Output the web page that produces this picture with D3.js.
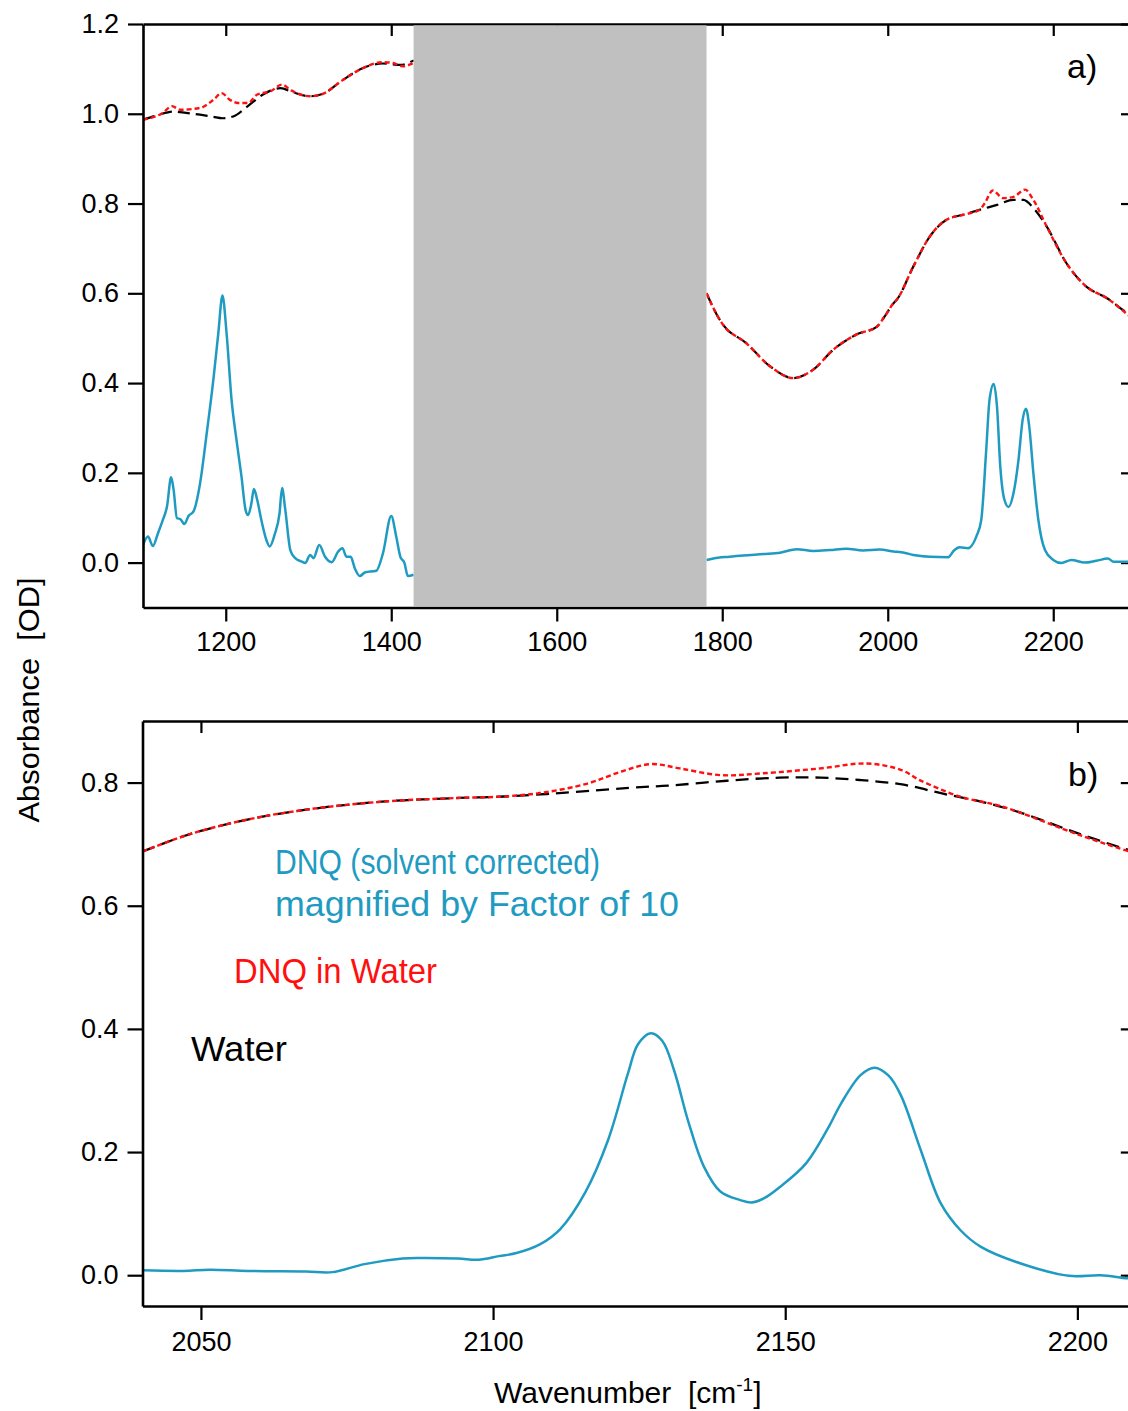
<!DOCTYPE html>
<html>
<head>
<meta charset="utf-8">
<script src="https://cdn.jsdelivr.net/npm/d3@7/dist/d3.min.js"></script>
<style>
  html, body { margin: 0; padding: 0; background: #fff; }
  svg { display: block; }
  text { font-family: "Liberation Sans", Arial, Helvetica, sans-serif; }
</style>
</head>
<body>
<svg id="chart" width="1128" height="1411"></svg>
<script>
// ---------- Panel a) : full spectrum (null = gap hidden under the grey band) ----------
const waterA_wn  = [1100,1118,1136,1152,1169,1185,1196,1209,1226,1245,1266,1281,1302,1318,1342,1366,1390,1411,1427,
                    1600,
                    1781,1797,1801,1829,1858,1886,1910,1934,1962,1987,1995,2007,2011,2031,2051,2071,2091,2111,2132,2152,2164,2176,2192,2216,2240,2265,2289,2300];
const waterA_abs = [0.987,0.997,1.005,1.002,0.998,0.993,0.990,0.994,1.016,1.043,1.057,1.048,1.039,1.045,1.076,1.102,1.112,1.109,1.119,
                    null,
                    0.600,0.541,0.530,0.489,0.437,0.411,0.430,0.474,0.508,0.526,0.545,0.578,0.586,0.660,0.727,0.764,0.775,0.786,0.797,0.808,0.808,0.790,0.749,0.667,0.615,0.589,0.556,0.540];

const dnqWaterA_wn  = [1100,1124,1135,1145,1169,1185,1195,1205,1215,1227,1238,1254,1268,1279,1302,1318,1342,1366,1390,1402,1414,1427,
                       1600,
                       1781,1797,1801,1829,1858,1886,1910,1934,1962,1987,1995,2007,2011,2031,2051,2071,2091,2111,2117,2127,2139,2152,2166,2176,2192,2216,2240,2265,2289,2300];
const dnqWaterA_abs = [0.987,1.002,1.017,1.009,1.013,1.031,1.046,1.031,1.024,1.024,1.043,1.050,1.065,1.052,1.039,1.045,1.076,1.102,1.115,1.113,1.106,1.113,
                       null,
                       0.600,0.541,0.530,0.489,0.437,0.411,0.430,0.474,0.508,0.526,0.545,0.578,0.586,0.660,0.727,0.764,0.775,0.786,0.800,0.829,0.812,0.815,0.831,0.808,0.749,0.667,0.615,0.589,0.554,0.536];

const dnqCorrA_wn  = [1100,1106,1112,1118,1124,1129,1134,1137,1141,1145,1150,1155,1161,1169,1177,1185,1191,1196,1201,1207,1213,1219,1224,1227,1231,1234,1238,1243,1249,1253,1259,1265,1268,1272,1278,1284,1292,1296,1302,1306,1313,1320,1328,1336,1341,1346,1351,1356,1362,1368,1382,1390,1400,1406,1411,1416,1420,1427,
                      1600,
                      1781,1795,1809,1825,1850,1870,1890,1910,1930,1950,1970,1990,2007,2020,2031,2051,2073,2080,2087,2097,2107,2113,2119,2123,2128,2132,2136,2141,2146,2152,2158,2163,2167,2171,2176,2182,2190,2200,2210,2222,2238,2252,2266,2273,2289,2300];
const dnqCorrA_abs = [0.039,0.058,0.037,0.065,0.095,0.125,0.190,0.162,0.099,0.097,0.086,0.104,0.114,0.177,0.288,0.407,0.511,0.595,0.511,0.363,0.273,0.192,0.117,0.106,0.132,0.164,0.140,0.095,0.051,0.036,0.062,0.110,0.166,0.117,0.028,0.010,0.002,-0.001,0.017,0.010,0.039,0.013,0.001,0.025,0.032,0.013,0.013,-0.013,-0.030,-0.022,-0.018,0.021,0.104,0.058,0.013,-0.001,-0.030,-0.027,
                      null,
                      0.006,0.011,0.013,0.016,0.019,0.022,0.030,0.026,0.028,0.031,0.027,0.029,0.025,0.022,0.017,0.013,0.012,0.027,0.034,0.032,0.058,0.095,0.251,0.363,0.398,0.348,0.214,0.140,0.124,0.155,0.229,0.318,0.343,0.303,0.199,0.095,0.028,0.006,-0.001,0.006,0.000,0.004,0.009,0.002,0.002,0.003];

const bandA = [1427, 1781];
const ticksA_x = [1200,1400,1600,1800,2000,2200];
const ticksA_y = [0.0,0.2,0.4,0.6,0.8,1.0,1.2];

// ---------- Panel b) : zoom on the 2040–2210 cm-1 region ----------
const waterB_wn  = [2040,2048,2058,2068,2081,2094,2101,2110,2120,2126,2130,2140,2149,2156,2163,2170,2177,2184,2190,2200,2209,2210];
const waterB_abs = [0.688,0.716,0.740,0.756,0.769,0.775,0.777,0.782,0.789,0.793,0.795,0.803,0.808,0.808,0.804,0.797,0.782,0.768,0.752,0.718,0.690,0.688];

const dnqWaterB_wn  = [2040,2048,2058,2068,2081,2094,2101,2108,2116,2122,2127,2132,2139,2146,2156,2164,2170,2173,2180,2186,2190,2200,2209,2210];
const dnqWaterB_abs = [0.688,0.716,0.740,0.756,0.769,0.775,0.777,0.783,0.798,0.818,0.830,0.823,0.812,0.815,0.823,0.831,0.820,0.804,0.777,0.764,0.752,0.716,0.688,0.686];

const dnqCorrB_wn  = [2040,2047,2051.5,2058,2068,2072.5,2078,2084.5,2087.5,2094,2097.5,2101,2104,2108,2111.5,2115.8,2119.7,2123.1,2124.8,2127,2129,2131,2133.4,2136.1,2138.9,2142.3,2144.2,2146.4,2149.2,2153.6,2157.4,2159.5,2162.9,2165.3,2167.7,2169.8,2173.2,2176.6,2180,2183.5,2190.3,2198.6,2204,2208.5,2210];
const dnqCorrB_abs = [0.008,0.007,0.009,0.007,0.006,0.005,0.018,0.027,0.028,0.027,0.025,0.031,0.036,0.050,0.075,0.135,0.220,0.328,0.375,0.393,0.380,0.332,0.250,0.176,0.136,0.122,0.118,0.125,0.144,0.182,0.240,0.278,0.325,0.337,0.324,0.292,0.203,0.117,0.073,0.046,0.019,-0.001,0.000,-0.005,-0.005];

const ticksB_x = [2050,2100,2150,2200];
const ticksB_y = [0.0,0.2,0.4,0.6,0.8];

// ---------- Styling ----------
const BLUE = "#1f9bc2";
const RED = "#ff1010";
const FONT = "\"Liberation Sans\", Arial, Helvetica, sans-serif";

const svg = d3.select("#chart");

function zip(wn, abs) {
  return wn.map((w, i) => ({ x: w, y: abs[i] }));
}

function panel(opts) {
  const { id, xDom, yDom, left, right, top, bottom, xTicks, yTicks, labelPad } = opts;
  const x = d3.scaleLinear().domain(xDom).range([left, right]);
  const y = d3.scaleLinear().domain(yDom).range([bottom, top]);
  const g = svg.append("g");

  g.append("clipPath").attr("id", "clip-" + id)
    .append("rect").attr("x", left).attr("y", top)
    .attr("width", right - left).attr("height", bottom - top);

  const styleAxis = sel => {
    sel.selectAll(".domain").attr("stroke", "#000").attr("stroke-width", 2.6);
    sel.selectAll(".tick line").attr("stroke", "#000").attr("stroke-width", 2.2);
    sel.selectAll(".tick text").attr("fill", "#000").style("font-family", FONT).style("font-size", "27px");
  };

  // mirrored (inward) ticks on top and right
  g.append("g").attr("transform", `translate(0,${top})`)
    .call(d3.axisTop(x).tickValues(xTicks).tickSize(-12).tickSizeOuter(0).tickFormat(""))
    .call(styleAxis);
  g.append("g").attr("transform", `translate(${right},0)`)
    .call(d3.axisRight(y).tickValues(yTicks).tickSize(-15).tickSizeOuter(0).tickFormat(""))
    .call(styleAxis);

  const plot = g.append("g");

  g.append("g").attr("transform", `translate(0,${bottom})`)
    .call(d3.axisBottom(x).tickValues(xTicks).tickSize(14).tickSizeOuter(0).tickPadding(labelPad).tickFormat(d3.format("d")))
    .call(styleAxis);
  g.append("g").attr("transform", `translate(${left},0)`)
    .call(d3.axisLeft(y).tickValues(yTicks).tickSize(15).tickSizeOuter(0).tickPadding(9).tickFormat(d3.format(".1f")))
    .call(styleAxis);

  return { x, y, g, plot };
}

function drawLine(p, data, color, width, dash, id, curve) {
  const line = d3.line()
    .defined(d => d.y !== null)
    .x(d => p.x(d.x)).y(d => p.y(d.y))
    .curve(curve || d3.curveMonotoneX);
  p.plot.append("path")
    .datum(data)
    .attr("clip-path", `url(#clip-${id})`)
    .attr("fill", "none")
    .attr("stroke", color)
    .attr("stroke-width", width)
    .attr("stroke-dasharray", dash)
    .attr("stroke-linejoin", "round")
    .attr("d", line);
}

// ---------- Panel a ----------
const pA = panel({ id: "a", xDom: [1100, 2300], yDom: [-0.1, 1.2], left: 143, right: 1136, top: 24, bottom: 607.5,
                   xTicks: ticksA_x, yTicks: ticksA_y, labelPad: 10 });
drawLine(pA, zip(waterA_wn, waterA_abs), "#000", 2.2, "12,6", "a");
drawLine(pA, zip(dnqWaterA_wn, dnqWaterA_abs), RED, 2.4, "5,3", "a");
drawLine(pA, zip(dnqCorrA_wn, dnqCorrA_abs), BLUE, 2.5, null, "a");
// grey band over the saturated region
pA.plot.append("rect")
  .attr("x", pA.x(bandA[0])).attr("width", pA.x(bandA[1]) - pA.x(bandA[0]))
  .attr("y", pA.y(1.2) + 1.3).attr("height", pA.y(-0.1) - pA.y(1.2) - 2.6)
  .attr("fill", "#c0c0c0");
pA.g.append("text").attr("x", 1067).attr("y", 78).attr("font-size", 34).attr("fill", "#000").text("a)");

// ---------- Panel b ----------
const smooth = d3.curveCatmullRom.alpha(0.5);
const pB = panel({ id: "b", xDom: [2040, 2210], yDom: [-0.05, 0.9], left: 142.5, right: 1135.8, top: 721, bottom: 1306,
                   xTicks: ticksB_x, yTicks: ticksB_y, labelPad: 12 });
drawLine(pB, zip(waterB_wn, waterB_abs), "#000", 2.3, "13,7", "b", smooth);
drawLine(pB, zip(dnqWaterB_wn, dnqWaterB_abs), RED, 2.4, "5,3", "b", smooth);
drawLine(pB, zip(dnqCorrB_wn, dnqCorrB_abs), BLUE, 2.5, null, "b", smooth);
pB.g.append("text").attr("x", 1068).attr("y", 786).attr("font-size", 34).attr("fill", "#000").text("b)");

// legend texts
const legend = [
  { t: "DNQ (solvent corrected)", x: 275, y: 874, size: 35, w: 325, c: BLUE },
  { t: "magnified by Factor of 10", x: 275, y: 916, size: 35, w: 404, c: BLUE },
  { t: "DNQ in Water", x: 234, y: 983, size: 35, w: 203, c: RED },
  { t: "Water", x: 191, y: 1061, size: 35, w: 96, c: "#000" }
];
legend.forEach(d => {
  svg.append("text")
    .attr("x", d.x).attr("y", d.y)
    .attr("font-size", d.size)
    .attr("fill", d.c)
    .attr("textLength", d.w)
    .attr("lengthAdjust", "spacingAndGlyphs")
    .text(d.t);
});

// axis titles
svg.append("text")
  .attr("transform", "translate(39,700) rotate(-90)")
  .attr("text-anchor", "middle")
  .attr("font-size", 30)
  .attr("fill", "#000")
  .attr("textLength", 245)
  .attr("lengthAdjust", "spacingAndGlyphs")
  .text("Absorbance\u00a0\u00a0[OD]");

const xt = svg.append("text")
  .attr("x", 494).attr("y", 1403)
  .attr("font-size", 30)
  .attr("fill", "#000");
xt.append("tspan").text("Wavenumber\u00a0\u00a0[cm");
xt.append("tspan").attr("font-size", 19).attr("dy", -12).text("-1");
xt.append("tspan").attr("dy", 12).text("]");
</script>
</body>
</html>
